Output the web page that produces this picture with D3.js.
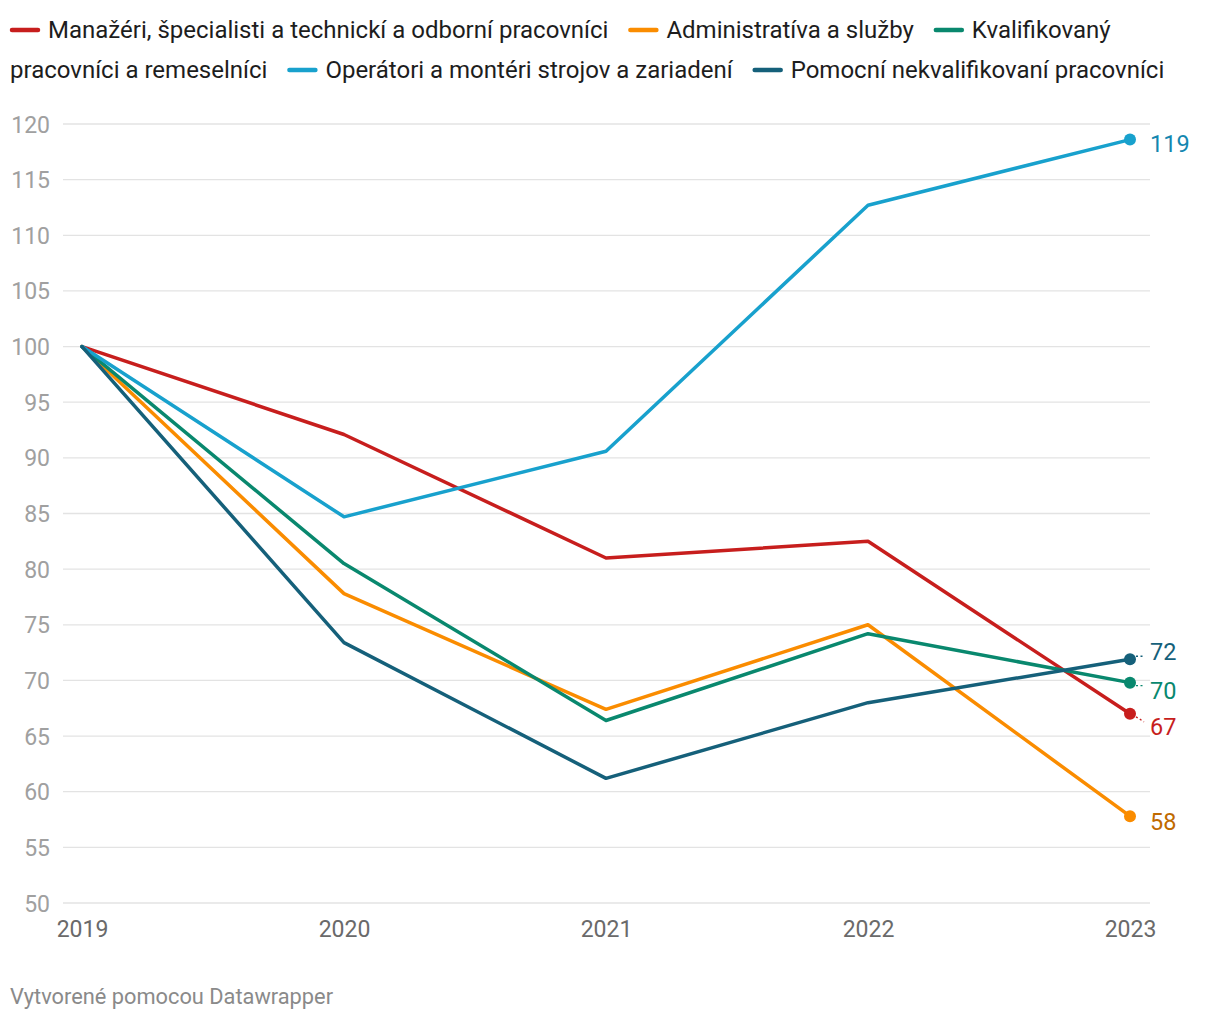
<!DOCTYPE html>
<html><head><meta charset="utf-8">
<script src="https://cdn.jsdelivr.net/npm/d3@7"></script>
<style>
body{margin:0;background:#fff;font-family:Roboto,"Noto Sans",sans-serif;}
svg{position:absolute;left:0;top:0;}
</style></head><body>
<svg id="chart" width="1220" height="1020"></svg>
<script>
const years = [2019, 2020, 2021, 2022, 2023];
const seriesNames = [
  "Manažéri, špecialisti a technickí a odborní pracovníci",
  "Administratíva a služby",
  "Kvalifikovaný pracovníci a remeselníci",
  "Operátori a montéri strojov a zariadení",
  "Pomocní nekvalifikovaní pracovníci"
];
const managers = [100, 92.1, 81.0, 82.5, 67.0];
const admin = [100, 77.8, 67.4, 75.0, 57.8];
const skilled = [100, 80.5, 66.4, 74.2, 69.8];
const operators = [100, 84.7, 90.6, 112.7, 118.6];
const elementary = [100, 73.4, 61.2, 68.0, 71.9];
const endLabels = ["67", "58", "70", "119", "72"];
const yTicks = [50,55,60,65,70,75,80,85,90,95,100,105,110,115,120];

const lineColors = ["#c71e1d", "#fa8c00", "#09886e", "#18a1cd", "#15607a"];
const labelColors = ["#c71e1d", "#c06a00", "#09886e", "#1487b0", "#15607a"];
const labelOffsets = [13, 6, 8, 4, -8]; // vertical nudge of end labels (px)
const allSeries = [managers, admin, skilled, operators, elementary];

const svg = d3.select("#chart");

// legend (flow layout in SVG)
const legG = svg.append("g").style("font-family", "Roboto").style("font-size", "24px");
const measure = legG.append("text").attr("x", -1000).attr("y", -1000);
const tw = s => { measure.text(s); return measure.node().getComputedTextLength(); };
const maxX = 1200, lineH = 40, swW = 30, swGap = 8, itemGap = 20;
let cx = 10, cy = 30;
function putText(s, x0, y0) {
  legG.append("text").attr("x", x0).attr("y", y0).attr("dy", "0.35em")
    .attr("fill", "#1d1d1d").text(s);
}
seriesNames.forEach((n, i) => {
  const words = n.split(" ");
  if (cx + swW + swGap + tw(words[0]) > maxX) { cx = 10; cy += lineH; }
  legG.append("line").attr("x1", cx + 2).attr("x2", cx + swW - 2)
    .attr("y1", cy).attr("y2", cy).attr("stroke", lineColors[i])
    .attr("stroke-width", 4.5).attr("stroke-linecap", "round");
  cx += swW + swGap;
  let seg = "";
  words.forEach(w => {
    const trial = seg ? seg + " " + w : w;
    if (seg && cx + tw(trial) > maxX) {
      putText(seg, cx, cy);
      cx = 10; cy += lineH; seg = w;
    } else seg = trial;
  });
  putText(seg, cx, cy);
  cx += tw(seg) + itemGap;
});
measure.remove();

const x = d3.scaleLinear().domain([2019, 2023]).range([82, 1130]);
const y = d3.scaleLinear().domain([50, 120]).range([903, 124]);

// grid
const grid = svg.append("g");
grid.selectAll("line").data(yTicks).join("line")
  .attr("x1", 63).attr("x2", 1150)
  .attr("y1", d => y(d)).attr("y2", d => y(d))
  .attr("stroke", "#e3e3e3").attr("stroke-width", 1.3);

// y axis labels
const yAxis = svg.append("g").attr("transform", "translate(50,0)")
  .call(d3.axisLeft(y).tickValues(yTicks).tickSize(0).tickPadding(0));
yAxis.select(".domain").remove();
yAxis.selectAll("text").attr("fill", "#a0a0a0").style("font-size", "23px")
  .style("font-family", "Roboto").attr("dy", "0.35em");

// x axis labels
const xAxis = svg.append("g").attr("transform", "translate(0,921)")
  .call(d3.axisBottom(x).tickValues(years).tickFormat(d3.format("d")).tickSize(0).tickPadding(0));
xAxis.select(".domain").remove();
xAxis.selectAll("text").attr("fill", "#6a6a6a").style("font-size", "23px")
  .style("font-family", "Roboto").attr("dy", "0.71em");

// lines
const line = d3.line().x((d, i) => x(years[i])).y(d => y(d));
const order = [0, 1, 2, 3, 4];
order.forEach(i => {
  svg.append("path").datum(allSeries[i]).attr("d", line)
    .attr("fill", "none").attr("stroke", lineColors[i]).attr("stroke-width", 3.5)
    .attr("stroke-linejoin", "round").attr("stroke-linecap", "round");
});
// end dots and labels
order.forEach(i => {
  const v = allSeries[i][4];
  const px = x(2023), py = y(v);
  const ly = py + labelOffsets[i];
  if (Math.abs(labelOffsets[i]) > 6) {
    svg.append("line").attr("x1", px + 6).attr("y1", py + Math.sign(labelOffsets[i]) * 3)
      .attr("x2", px + 14).attr("y2", ly - Math.sign(labelOffsets[i]) * 5)
      .attr("stroke", lineColors[i]).attr("stroke-width", 1.4).attr("stroke-dasharray", "2,2.5");
  }
  svg.append("circle").attr("cx", px).attr("cy", py).attr("r", 6).attr("fill", lineColors[i]);
  svg.append("text").attr("x", 1150).attr("y", ly).attr("dy", "0.35em")
    .attr("fill", labelColors[i]).style("font-size", "23.5px").style("font-family", "Roboto")
    .text(endLabels[i]);
});

// footer
svg.append("text").attr("x", 10).attr("y", 1004).attr("fill", "#8a8a8a")
  .style("font-size", "21.8px").style("font-family", "Roboto").text("Vytvorené pomocou Datawrapper");
</script>
</body></html>
